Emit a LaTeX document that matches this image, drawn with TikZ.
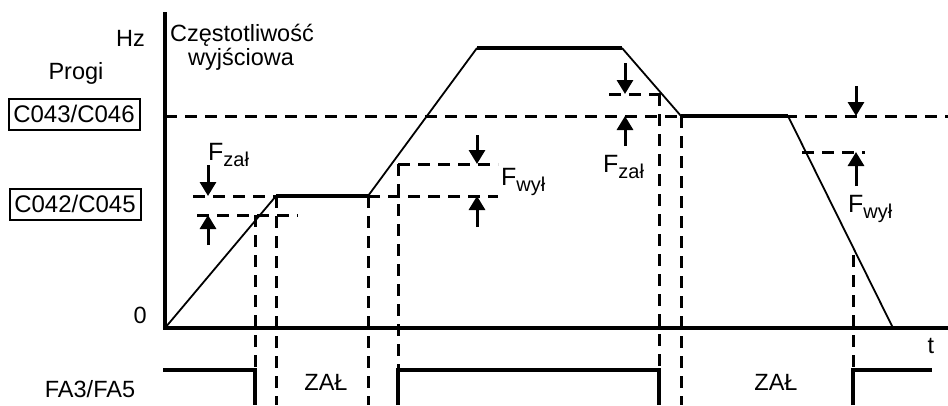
\documentclass[tikz,border=0pt]{standalone}
\usepackage{fontspec}
\setmainfont{Liberation Sans}
\usetikzlibrary{arrows.meta}
\newcommand{\subtxt}[1]{\raisebox{-6pt}{\fontsize{20}{20}\selectfont #1}}
\tikzset{
  lbl/.style={inner sep=0pt, font=\fontsize{23.5}{27}\selectfont},
  flbl/.style={inner sep=0pt, font=\fontsize{25}{29}\selectfont},
  boxlbl/.style={draw, line width=2pt, inner sep=0pt, minimum width=131pt, minimum height=31pt, font=\fontsize{24}{27}\selectfont},
  axis/.style={line width=3.2pt},
  flat/.style={line width=3.2pt},
  ramp/.style={line width=1.8pt},
  dsh/.style={line width=3pt, dash pattern=on 12pt off 8pt},
  sig/.style={line width=3.2pt},
  tarr/.style={line width=3pt, -{Triangle[width=16pt,length=14pt]}}
}
\begin{document}
\begin{tikzpicture}[x=1pt,y=-1pt]
\useasboundingbox (0,0) rectangle (948,405);
% coordinates
\coordinate (O) at (165,328);
\coordinate (Ytop) at (165,12);
\coordinate (Xend) at (948,328);
\coordinate (P1) at (276,196);
\coordinate (P2) at (368,196);
\coordinate (P3) at (477,48);
\coordinate (P4) at (622,48);
\coordinate (P5) at (681,116);
\coordinate (P6) at (788,116);
\coordinate (P7) at (893,328);
% dashed threshold lines
\draw[dsh] (165,116) -- (948,116);
\draw[dsh] (193,196) -- (276,196);
\draw[dsh] (368,196) -- (498,196);
\draw[dsh] (197,215) -- (298,215);
\draw[dsh] (398,164) -- (498,164);
\draw[dsh] (609,94) -- (662,94);
\draw[dsh] (802,152) -- (865,152);
% vertical dashed
\draw[dsh] (255,215) -- (255,405);
\draw[dsh] (276,196) -- (276,405);
\draw[dsh] (368,196) -- (368,405);
\draw[dsh] (398,164) -- (398,405);
\draw[dsh] (659,94) -- (659,405);
\draw[dsh] (681,116) -- (681,405);
\draw[dsh] (853,255) -- (853,405);
% axes
\draw[axis] (Ytop) -- (O) -- (Xend);
% frequency curve
\draw[ramp] (O) -- (P1);
\draw[flat] (P1) -- (P2);
\draw[ramp] (P2) -- (P3);
\draw[flat] (P3) -- (P4);
\draw[ramp] (P4) -- (P5);
\draw[flat] (P5) -- (P6);
\draw[ramp] (P6) -- (P7);
% arrows
\coordinate (a1s) at (208,165); \coordinate (a1e) at (208,196);
\coordinate (a2s) at (208,245); \coordinate (a2e) at (208,215);
\coordinate (a3s) at (477,135); \coordinate (a3e) at (477,164);
\coordinate (a4s) at (477,227); \coordinate (a4e) at (477,196);
\coordinate (a5s) at (625,63);  \coordinate (a5e) at (625,94);
\coordinate (a6s) at (625,146); \coordinate (a6e) at (625,116);
\coordinate (a7s) at (856,86);  \coordinate (a7e) at (856,116);
\coordinate (a8s) at (856,186); \coordinate (a8e) at (856,152);
\draw[tarr] (a1s) -- (a1e);
\draw[tarr] (a2s) -- (a2e);
\draw[tarr] (a3s) -- (a3e);
\draw[tarr] (a4s) -- (a4e);
\draw[tarr] (a5s) -- (a5e);
\draw[tarr] (a6s) -- (a6e);
\draw[tarr] (a7s) -- (a7e);
\draw[tarr] (a8s) -- (a8e);
% output signal
\draw[sig] (163,370) -- (255,370) -- (255,405);
\draw[sig] (398,405) -- (398,370) -- (659,370) -- (659,405);
\draw[sig] (853,405) -- (853,370) -- (932,370);
% labels
\node[lbl, anchor=base east] (hz) at (145,46) {Hz};
\node[lbl, anchor=base] (progi) at (76,79) {Progi};
\node[boxlbl] (c43) at (74,114) {C043/C046};
\node[boxlbl] (c42) at (75,204) {C042/C045};
\node[lbl, anchor=base east] (zero) at (147,323) {0};
\node[lbl, anchor=base] (tt) at (931,353) {t};
\node[lbl, anchor=base] (fa) at (90,397) {FA3/FA5};
\node[lbl, anchor=base] (zal1) at (326,390) {ZAŁ};
\node[lbl, anchor=base] (zal2) at (776,390) {ZAŁ};
\node[lbl, anchor=base] (cz1) at (242,41) {Częstotliwość};
\node[lbl, anchor=base] (cz2) at (241,65) {wyjściowa};
\node[flbl, anchor=base west] (fz1) at (208,160) {F\subtxt{zał}};
\node[flbl, anchor=base west] (fw1) at (501,185) {F\subtxt{wył}};
\node[flbl, anchor=base west] (fz2) at (603,172) {F\subtxt{zał}};
\node[flbl, anchor=base west] (fw2) at (848,212) {F\subtxt{wył}};
\end{tikzpicture}
\end{document}
